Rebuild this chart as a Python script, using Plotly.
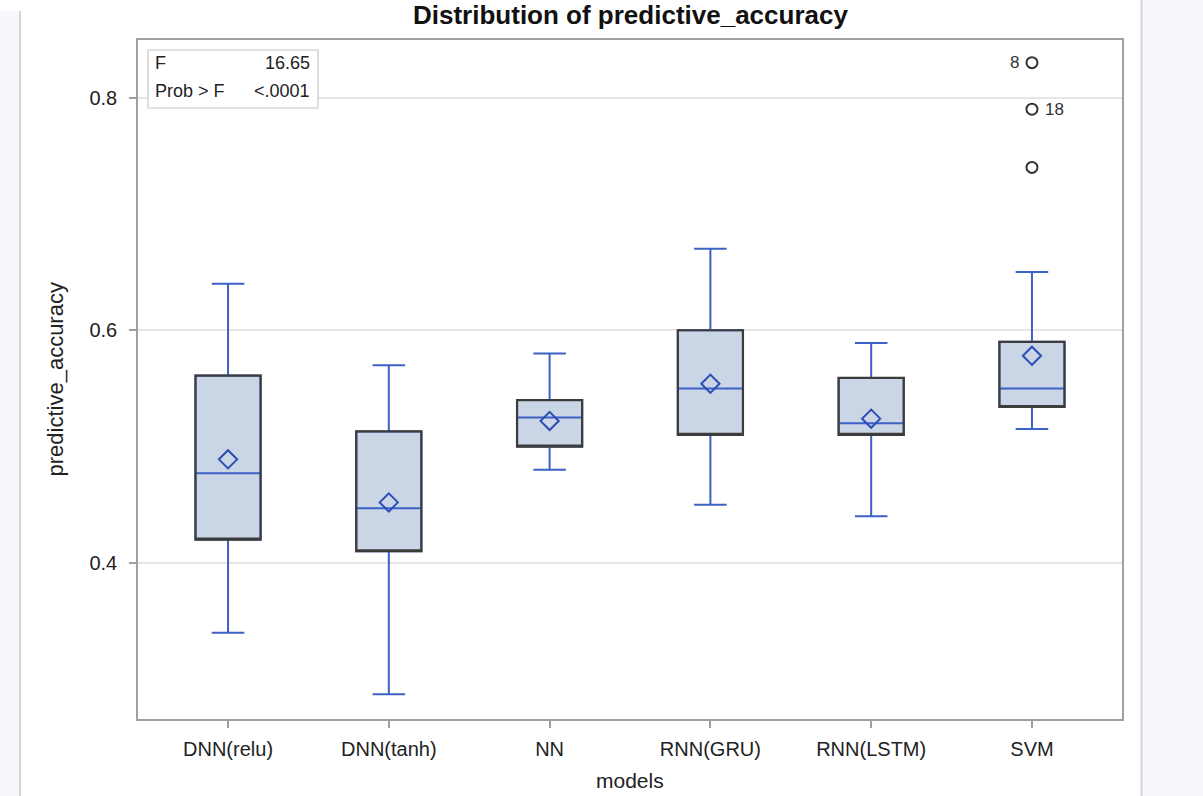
import plotly.graph_objects as go

# ---- data ----
models = ["DNN(relu)", "DNN(tanh)", "NN", "RNN(GRU)", "RNN(LSTM)", "SVM"]
lower_whisker = [0.340, 0.287, 0.480, 0.450, 0.440, 0.515]
q1_vals = [0.420, 0.410, 0.500, 0.510, 0.510, 0.534]
median_vals = [0.477, 0.447, 0.525, 0.550, 0.520, 0.550]
q3_vals = [0.561, 0.513, 0.540, 0.600, 0.559, 0.590]
upper_whisker = [0.640, 0.570, 0.580, 0.670, 0.589, 0.650]
mean_vals = [0.489, 0.452, 0.522, 0.554, 0.524, 0.578]

outlier_model = ["SVM", "SVM", "SVM"]
outlier_vals = [0.830, 0.790, 0.740]
outlier_labels = ["8", "18", ""]
outlier_label_side = [-1, 1, 0]

stat_names = ["F", "Prob > F"]
stat_values = ["16.65", "<.0001"]

y_ticks = [0.4, 0.6, 0.8]

# ---- style ----
FONT = "Liberation Sans, Arial, sans-serif"
BLUE = "#3d61c4"
FILL = "#cad5e6"
OUTLINE = "#3c3c3c"
BOX_W = 0.405

fig = go.Figure()

# main boxes (whiskers + median in blue)
fig.add_trace(go.Box(
    x=models, q1=q1_vals, median=median_vals, q3=q3_vals,
    lowerfence=lower_whisker, upperfence=upper_whisker,
    width=BOX_W, whiskerwidth=0.5,
    fillcolor=FILL, line=dict(color=BLUE, width=2),
    boxpoints=False, showlegend=False, hoverinfo="skip",
))
# dark box outlines
fig.add_trace(go.Box(
    x=models, q1=q1_vals, median=q1_vals, q3=q3_vals,
    lowerfence=q1_vals, upperfence=q3_vals,
    width=BOX_W, whiskerwidth=0,
    fillcolor="rgba(0,0,0,0)", line=dict(color=OUTLINE, width=2.2),
    boxpoints=False, showlegend=False, hoverinfo="skip",
))
# means
fig.add_trace(go.Scatter(
    x=models, y=mean_vals, mode="markers",
    marker=dict(symbol="diamond-open", size=14, color="#2a4db5", line=dict(width=2, color="#2a4db5")),
    showlegend=False, hoverinfo="skip",
))
# outliers
fig.add_trace(go.Scatter(
    x=outlier_model, y=outlier_vals, mode="markers",
    marker=dict(symbol="circle-open", size=11, color="#333333", line=dict(width=2, color="#333333")),
    showlegend=False, hoverinfo="skip",
))

L, R, T, B = 138, 81, 40, 77
W, H = 1203, 796
pw, ph = W - L - R, H - T - B

def px(x):
    return (x - L) / pw

def py(y):
    return (H - B - y) / ph

shapes = [
    # left light strip and separator
    dict(type="rect", xref="paper", yref="paper", x0=px(0), x1=px(19), y0=py(796), y1=py(11),
         fillcolor="#f7f8fc", line=dict(width=0), layer="below"),
    dict(type="line", xref="paper", yref="paper", x0=px(20), x1=px(20), y0=py(796), y1=py(11),
         line=dict(color="#d4d4d4", width=2), layer="below"),
    # right light panel and separator
    dict(type="rect", xref="paper", yref="paper", x0=px(1142), x1=px(1203), y0=py(796), y1=py(0),
         fillcolor="#f7f8fc", line=dict(width=0), layer="below"),
    dict(type="line", xref="paper", yref="paper", x0=px(1141.5), x1=px(1141.5), y0=py(796), y1=py(0),
         line=dict(color="#d4d4d4", width=2), layer="below"),
    # stats inset border
    dict(type="rect", xref="paper", yref="paper", x0=px(148), x1=px(318), y0=py(108), y1=py(50),
         fillcolor="white", line=dict(color="#c8c8c8", width=1.2), layer="above"),
]

annotations = [
    dict(text="<b>Distribution of predictive_accuracy</b>", xref="paper", yref="paper",
         x=0.5, y=py(32), xanchor="center", yanchor="bottom", showarrow=False,
         font=dict(family=FONT, size=26, color="#111111")),
    dict(text="predictive_accuracy", xref="paper", yref="paper", x=px(55), y=0.5,
         xanchor="center", yanchor="middle", textangle=-90, showarrow=False,
         font=dict(family=FONT, size=22, color="#222222")),
    dict(text="models", xref="paper", yref="paper", x=0.5, y=py(767),
         xanchor="center", yanchor="top", showarrow=False,
         font=dict(family=FONT, size=21, color="#222222")),
]
row_y = [63, 91]
for name, val, ry in zip(stat_names, stat_values, row_y):
    annotations.append(dict(text=name, xref="paper", yref="paper", x=px(153), y=py(ry),
                            xanchor="left", yanchor="middle", showarrow=False,
                            font=dict(family=FONT, size=18, color="#222222")))
    annotations.append(dict(text=val, xref="paper", yref="paper", x=px(312), y=py(ry),
                            xanchor="right", yanchor="middle", showarrow=False,
                            font=dict(family=FONT, size=18, color="#222222")))
for m, v, lab, side in zip(outlier_model, outlier_vals, outlier_labels, outlier_label_side):
    if lab:
        annotations.append(dict(text=lab, x=m, y=v, xref="x", yref="y",
                                xanchor="right" if side < 0 else "left", yanchor="middle",
                                xshift=11 * side, showarrow=False,
                                font=dict(family=FONT, size=17, color="#333333")))

fig.update_layout(
    width=W, height=H,
    margin=dict(l=L, r=R, t=T, b=B, pad=0),
    paper_bgcolor="white", plot_bgcolor="white",
    boxmode="overlay",
    shapes=shapes, annotations=annotations,
    font=dict(family=FONT, color="#222222"),
    xaxis=dict(type="category", categoryorder="array", categoryarray=models,
               range=[-0.56, 5.56], showgrid=False, zeroline=False,
               showline=True, mirror=True, linecolor="#a0a0a0", linewidth=1.5,
               ticks="outside", ticklen=7, tickcolor="#a0a0a0", tickwidth=1.5,
               ticklabelstandoff=4,
               tickfont=dict(family=FONT, size=20, color="#222222")),
    yaxis=dict(range=[0.2658, 0.8495], tickvals=y_ticks, ticktext=[f"{v:.1f}" for v in y_ticks],
               showgrid=True, gridcolor="#e6e6e6", gridwidth=1.5, zeroline=False,
               showline=True, mirror=True, linecolor="#a0a0a0", linewidth=1.5,
               ticks="outside", ticklen=7, tickcolor="#a0a0a0", tickwidth=1.5,
               ticklabelstandoff=8,
               tickfont=dict(family=FONT, size=20, color="#222222")),
)

fig.write_html("out.html")
